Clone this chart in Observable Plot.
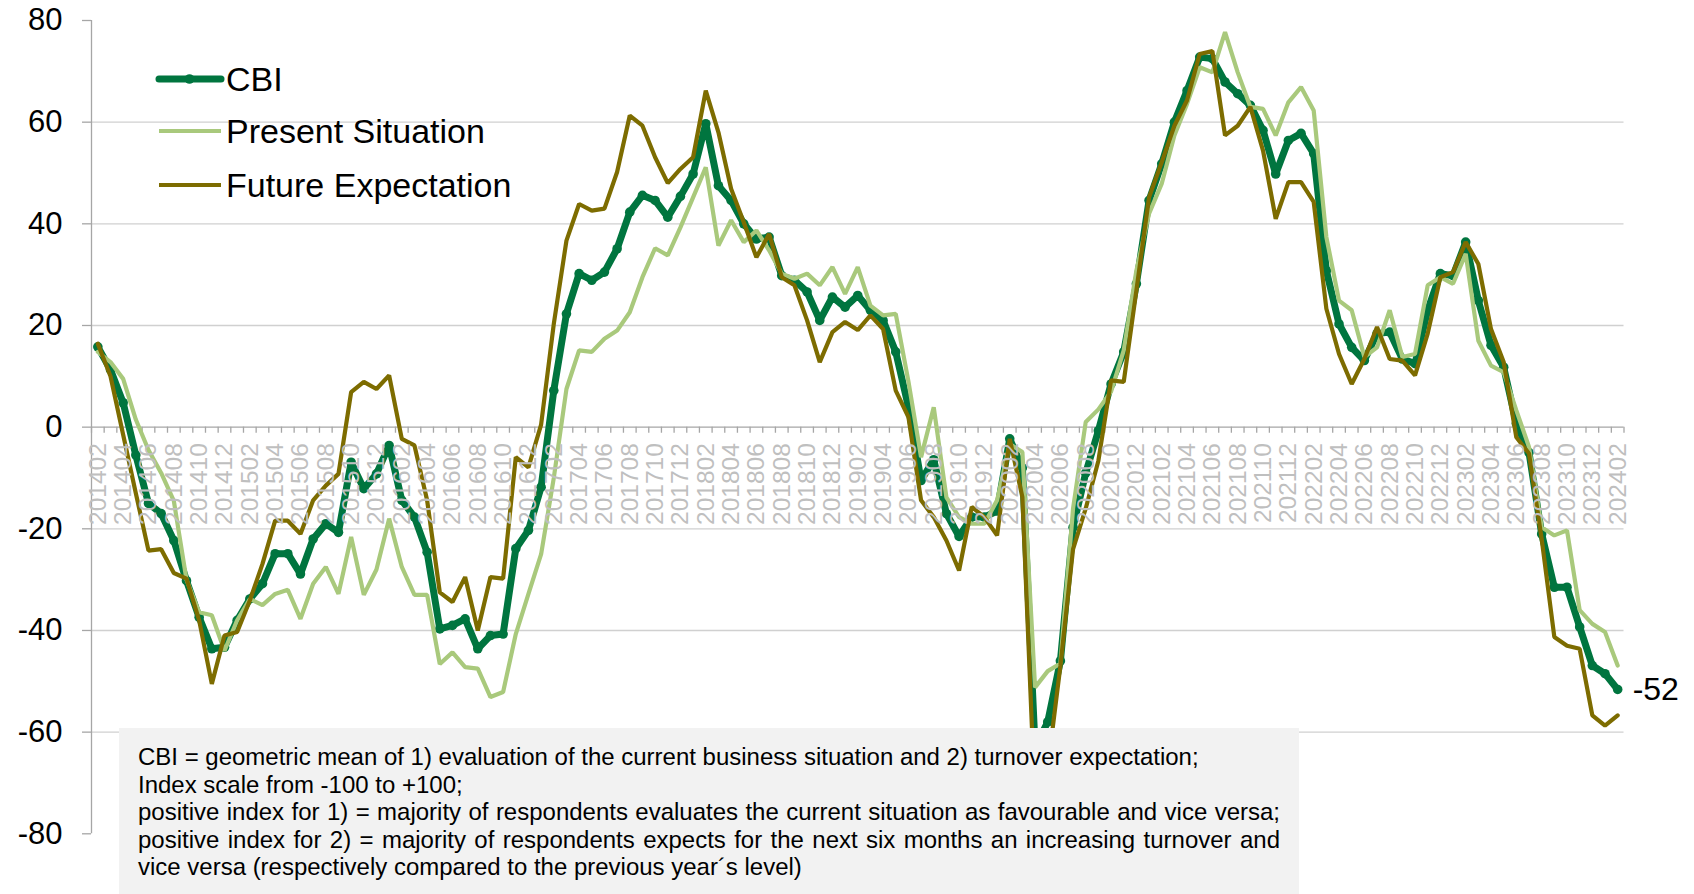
<!DOCTYPE html>
<html>
<head>
<meta charset="utf-8">
<script src="https://cdn.jsdelivr.net/npm/d3@7"></script>
<script src="https://cdn.jsdelivr.net/npm/@observablehq/plot@0.6"></script>
<style>
  html, body { margin: 0; padding: 0; background: #ffffff; }
  #wrap { position: relative; width: 1694px; height: 894px; overflow: hidden; font-family: "Liberation Sans", Arial, sans-serif; }
  #legend { position: absolute; left: 0; top: 0; }
  #note { position: absolute; left: 119px; top: 728px; width: 1180px; height: 166px; background: #f2f2f2; color: #000; box-sizing: border-box; padding: 15px 0 0 19px; }
  #note div { white-space: nowrap; line-height: 27.5px; }
  #note div.just { width: 1142px; text-align: justify; text-align-last: justify; white-space: normal; }
</style>
</head>
<body>
<div id="wrap"></div>
<script>
// ---------- data ----------
const firstMonth = [2014, 1];   // Feb 2014 (month index 0-based)
const monthCount = 121;         // 201402 .. 202402

const cbi = [
  15.8, 11.3, 4.8, -5.5, -15, -17, -22.3, -30.2, -37.4, -43.6,
  -43.3, -38, -33.8, -30.8, -24.9, -24.9, -28.9, -22, -19, -20.7,
  -6.9, -12.1, -9.2, -3.6, -14.4, -17.7, -24.6, -39.7, -39, -37.7,
  -43.6, -41, -40.7, -23.9, -20.3, -11.8, 7.2, 22.3, 30.2, 28.9,
  30.5, 35.1, 42.3, 45.6, 44.6, 41.3, 45.4, 49.8, 59.7, 47.5,
  44.6, 40, 37, 37.4, 29.8, 28.9, 26.6, 21, 25.6, 23.6,
  25.9, 23, 21, 14.8, 4, -10.5, -6.4, -17, -21.5, -17.7,
  -17.7, -16.5, -2.3, -8, -63, -58, -46, -19.7, -9, -0.7,
  8.5, 14.8, 28.2, 44.6, 51.8, 60, 66.2, 72.8, 72.5, 67.9,
  65.6, 63.3, 58.4, 49.8, 56.4, 57.8, 53.8, 30.8, 20.3, 15.7,
  13.1, 18.4, 18.7, 13.4, 12.5, 23, 30.2, 29.8, 36.4, 24.9,
  16.1, 11.8, 0.7, -5, -21, -31.5, -31.5, -39.3, -46.9, -48.5,
  -51.6
];

const presentSituation = [
  14.8, 12.8, 9.5, 1.5, -4.5, -9, -14.5, -30, -36.4, -37,
  -44, -38, -33.8, -35, -32.8, -32, -37.7, -30.8, -27.5, -32.8,
  -21.6, -33, -28, -18, -27.5, -33, -33, -46.6, -44.3, -47.2,
  -47.5, -53.1, -52.1, -40.7, -32.8, -25, -10, 7.5, 15.1, 14.8,
  17.4, 19, 22.6, 29.5, 35.2, 33.8, 39.3, 45.2, 51.1, 35.7,
  40.7, 36.4, 38.7, 34.8, 30.2, 29.2, 30.2, 27.9, 31.5, 26.2,
  31.5, 23.9, 22, 22.3, 9, -5.9, 3.9, -13.8, -17.7, -19,
  -19, -14.4, -3.3, -4.9, -51.2, -48, -46.5, -16, 1, 3.5,
  7, 15.1, 30.8, 42, 47.9, 57.4, 63.6, 70.8, 69.8, 77.7,
  69.8, 63, 62.6, 57.4, 63.9, 66.9, 62.3, 37.4, 24.9, 23,
  13.8, 15.7, 23, 13.8, 14.4, 27.9, 29.5, 28.2, 34.1, 17,
  12.1, 10.8, 3.3, -3.9, -19.7, -21.3, -20.3, -36, -38.7, -40.3,
  -46.9
];

const futureExpectation = [
  16.4, 10, -1.5, -13, -24.3, -24, -28.7, -29.8, -38, -50.5,
  -41, -40.3, -34.1, -26.9, -18.4, -18.4, -21, -14.4, -11.5, -9.2,
  6.9, 8.9, 7.5, 10.2, -2.3, -3.6, -14.4, -32.5, -34.4, -29.5,
  -40, -29.5, -29.8, -5.9, -7.9, 0.5, 20.3, 36.7, 43.9, 42.6,
  43, 50.2, 61.3, 59.3, 53.1, 48, 50.8, 53.1, 66.2, 58,
  46.9, 40.3, 33.4, 38, 29.5, 27.9, 21, 12.8, 18.7, 20.7,
  19.1, 22, 19.3, 7.2, 2, -14.4, -17.7, -22.3, -28.2, -15.7,
  -17.7, -21.3, -2.3, -13.8, -74, -67, -47, -24, -16, -6.6,
  9.2, 8.9, 26.9, 45.2, 52.1, 59.3, 64.3, 73.4, 74, 57.4,
  59.3, 63, 54.4, 41, 48.2, 48.2, 44.3, 23.3, 14.4, 8.5,
  13.4, 19.7, 13.4, 13.1, 10.2, 18.4, 29.5, 30.5, 36.4, 32.1,
  19.3, 12.8, -2, -5.2, -22, -41.3, -43, -43.6, -56.7, -58.7,
  -56.7
];

const seriesNames = ["CBI", "Present Situation", "Future Expectation"];
const seriesColors = ["#00753f", "#a9c97c", "#7d6c00"];
const yTicks = [-80, -60, -40, -20, 0, 20, 40, 60, 80];
const gridValues = [-60, -40, -20, 20, 40, 60];
const noteLines = [
  "CBI = geometric mean of 1) evaluation of the current business situation and 2) turnover expectation;",
  "Index scale from -100 to +100;",
  "positive index for 1) = majority of respondents evaluates the current situation as favourable and vice versa;",
  "positive index for 2) = majority of respondents expects for the next six months an increasing turnover and",
  "vice versa (respectively compared to the previous year\u00b4s level)"
];
const justifiedNoteLines = [2, 3];

// ---------- build ----------
(function () {
  const fmt = d3.utcFormat("%Y%m");
  const start = new Date(Date.UTC(firstMonth[0], firstMonth[1], 1));
  const months = d3.utcMonth.range(start, d3.utcMonth.offset(start, monthCount)).map(fmt);
  const rows = months.map((m, i) => ({i, month: m, cbi: cbi[i], ps: presentSituation[i], fe: futureExpectation[i]}));
  const labelRows = rows.filter(d => d.i % 2 === 0);
  const boundaries = d3.range(monthCount + 1).map(k => k - 0.5);

  const W = 1694, H = 894;
  const pLeft = 91, pRight = 1623.5, pTop = 20, pBottom = 833.3;
  const FONT = '"Liberation Sans", Arial, sans-serif';
  const axisGray = "#a6a6a6";

  const chart = Plot.plot({
    width: W,
    height: H,
    marginLeft: pLeft,
    marginRight: W - pRight,
    marginTop: pTop,
    marginBottom: H - pBottom,
    style: {fontFamily: FONT, background: "transparent", color: "#000"},
    x: {type: "linear", domain: [-0.5, monthCount - 0.5], axis: null},
    y: {domain: [-80, 80], axis: null},
    marks: [
      Plot.ruleY(gridValues, {stroke: "#d0d0d0", strokeWidth: 1.3}),
      Plot.ruleX([-0.5], {y1: -80, y2: 80, stroke: axisGray, strokeWidth: 1.3}),
      Plot.axisY(yTicks, {anchor: "left", tickSize: 9, tickPadding: 20, fontSize: 31,
        stroke: axisGray, strokeWidth: 1.3, fill: "#000", tickFormat: d => String(d), label: null}),
      Plot.ruleY([0], {stroke: axisGray, strokeWidth: 1.3}),
      Plot.ruleX(boundaries, {x: d => d, y1: 0, y2: -1.2, stroke: axisGray, strokeWidth: 1.3}),
      Plot.line(rows, {x: "i", y: "cbi", stroke: seriesColors[0], strokeWidth: 7, strokeLinejoin: "round"}),
      Plot.dot(rows, {x: "i", y: "cbi", r: 4.8, fill: seriesColors[0], stroke: "none"}),
      Plot.line(rows, {x: "i", y: "ps", stroke: seriesColors[1], strokeWidth: 4.2, strokeLinejoin: "miter"}),
      Plot.line(rows, {x: "i", y: "fe", stroke: seriesColors[2], strokeWidth: 4.2, strokeLinejoin: "miter"}),
      Plot.text(labelRows, {x: "i", y: 0, text: "month", rotate: -90, textAnchor: "end", dy: 16,
        fontSize: 24.5, fill: "#bfbfbf"}),
      Plot.text([rows[rows.length - 1]], {x: "i", y: "cbi", text: d => String(Math.round(d.cbi)),
        textAnchor: "start", dx: 15, fontSize: 32, fill: "#000"})
    ]
  });

  const wrap = document.getElementById("wrap");
  wrap.appendChild(chart);

  // legend
  const ns = "http://www.w3.org/2000/svg";
  const leg = document.createElementNS(ns, "svg");
  leg.setAttribute("id", "legend");
  leg.setAttribute("width", 600);
  leg.setAttribute("height", 220);
  const legY = [79, 131, 185];
  seriesNames.forEach((name, k) => {
    const ln = document.createElementNS(ns, "line");
    ln.setAttribute("x1", 159); ln.setAttribute("x2", 221);
    ln.setAttribute("y1", legY[k]); ln.setAttribute("y2", legY[k]);
    ln.setAttribute("stroke", seriesColors[k]);
    ln.setAttribute("stroke-width", k === 0 ? 7 : 4.2);
    ln.setAttribute("stroke-linecap", k === 0 ? "round" : "butt");
    leg.appendChild(ln);
    if (k === 0) {
      const c = document.createElementNS(ns, "circle");
      c.setAttribute("cx", 189.5); c.setAttribute("cy", legY[k]); c.setAttribute("r", 4.8);
      c.setAttribute("fill", seriesColors[k]);
      leg.appendChild(c);
    }
    const t = document.createElementNS(ns, "text");
    t.setAttribute("x", 226);
    t.setAttribute("y", legY[k]);
    t.setAttribute("dy", "0.35em");
    t.setAttribute("font-size", 34);
    t.setAttribute("font-family", FONT);
    t.setAttribute("fill", "#000");
    t.textContent = name;
    leg.appendChild(t);
  });
  wrap.appendChild(leg);

  // footnote box
  const note = document.createElement("div");
  note.id = "note";
  const cv = document.createElement("canvas").getContext("2d");
  cv.font = '100px "Liberation Sans"';
  const w0 = cv.measureText(noteLines[0]).width;
  const noteSize = Math.min(24, 100 * 1061 / w0);
  note.style.fontSize = noteSize.toFixed(2) + "px";
  noteLines.forEach((s, k) => {
    const d = document.createElement("div");
    d.textContent = s;
    if (justifiedNoteLines.includes(k)) d.className = "just";
    note.appendChild(d);
  });
  wrap.appendChild(note);
})();
</script>
</body>
</html>
